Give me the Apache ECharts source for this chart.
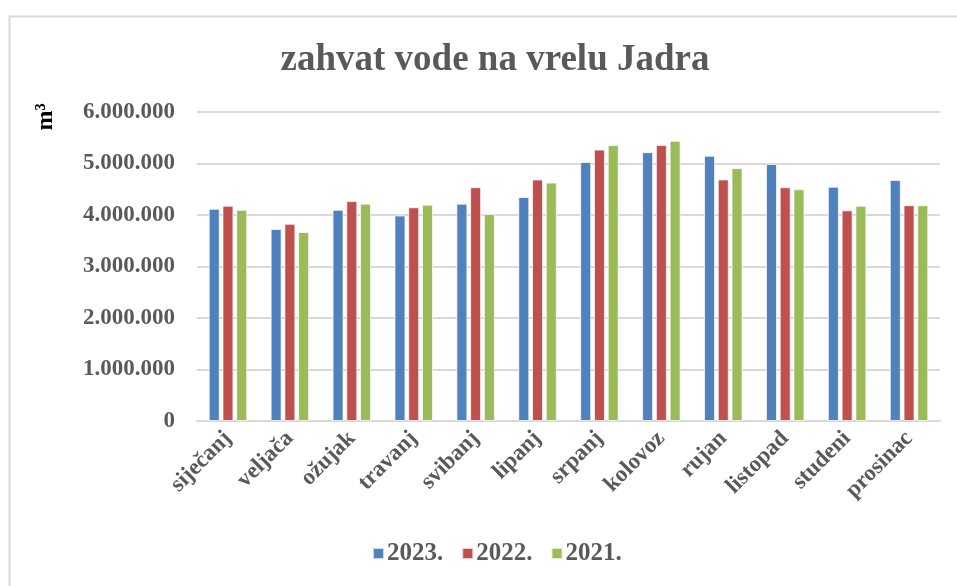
<!DOCTYPE html>
<html>
<head>
<meta charset="utf-8">
<title>zahvat vode na vrelu Jadra</title>
<script src="https://cdn.jsdelivr.net/npm/echarts@6/dist/echarts.min.js"></script>
<style>
  html, body { margin: 0; padding: 0; background: #fff; }
  #myChart { width: 957px; height: 586px; }
</style>
</head>
<body>
<div id="myChart"></div>
<script>
// podaci očitani s grafa (m3)
var months = ['siječanj', 'veljača', 'ožujak', 'travanj', 'svibanj', 'lipanj',
    'srpanj', 'kolovoz', 'rujan', 'listopad', 'studeni', 'prosinac'];
var years = ['2023.', '2022.', '2021.'];
var data2023 = [4120000, 3730000, 4100000, 3990000, 4220000, 4350000,
    5030000, 5220000, 5150000, 4990000, 4550000, 4680000];
var data2022 = [4180000, 3830000, 4270000, 4150000, 4540000, 4690000,
    5270000, 5360000, 4690000, 4540000, 4090000, 4190000];
var data2021 = [4100000, 3670000, 4220000, 4200000, 4020000, 4630000,
    5360000, 5440000, 4910000, 4500000, 4180000, 4190000];
var colors = ['#4f81bd', '#c0504d', '#9bbb59'];

var font = '"Liberation Serif", "DejaVu Serif", serif';
var grey = '#595959';

function formatThousands(v) {
    return String(v).replace(/\B(?=(\d{3})+(?!\d))/g, '.');
}

var myChart = echarts.init(document.getElementById('myChart'));

var seriesData = [data2023, data2022, data2021];
var series = [];
for (var i = 0; i < years.length; i++) {
    series.push({
        name: years[i],
        type: 'bar',
        barWidth: 11,
        barGap: '25%',
        itemStyle: {
            color: colors[i],
            borderColor: 'rgba(255,255,255,0.7)',
            borderWidth: 1
        },
        data: seriesData[i]
    });
}

var option = {
    backgroundColor: '#fff',
    animation: false,
    title: {
        text: 'zahvat vode na vrelu Jadra',
        left: 490,
        textAlign: 'center',
        top: 37,
        textStyle: {
            fontFamily: font,
            fontWeight: 'bold',
            fontSize: 37,
            color: grey
        }
    },
    legend: {
        data: years,
        bottom: 15,
        left: 367,
        itemWidth: 11,
        itemHeight: 11,
        itemGap: 18,
        icon: 'rect',
        textStyle: {
            fontFamily: font,
            fontWeight: 'bold',
            fontSize: 25,
            color: grey,
            padding: [0, 0, 0, -2]
        }
    },
    graphic: [
        {
            type: 'rect',
            shape: { x: 9.5, y: 16.5, width: 1200, height: 1200 },
            style: { fill: 'none', stroke: '#d9d9d9', lineWidth: 2 },
            silent: true
        },
        {
            type: 'text',
            x: 46,
            y: 117,
            rotation: Math.PI / 2,
            style: {
                text: 'm³',
                font: 'bold 24px ' + font,
                fill: '#000',
                align: 'center',
                verticalAlign: 'middle'
            }
        }
    ],
    grid: {
        left: 197,
        right: 17,
        top: 112,
        bottom: 165
    },
    xAxis: {
        type: 'category',
        data: months,
        axisLine: { lineStyle: { color: '#d9d9d9', width: 2 } },
        axisTick: { show: false },
        axisLabel: {
            rotate: 45,
            margin: 14,
            interval: 0,
            fontFamily: font,
            fontWeight: 'bold',
            fontSize: 23,
            color: grey
        }
    },
    yAxis: {
        type: 'value',
        min: 0,
        max: 6000000,
        interval: 1000000,
        axisLine: { show: false },
        axisTick: { show: false },
        splitLine: { lineStyle: { color: '#d9d9d9', width: 2 } },
        axisLabel: {
            margin: 22,
            fontFamily: font,
            fontWeight: 'bold',
            fontSize: 23,
            color: grey,
            formatter: formatThousands
        }
    },
    series: series
};

myChart.setOption(option);
</script>
</body>
</html>
